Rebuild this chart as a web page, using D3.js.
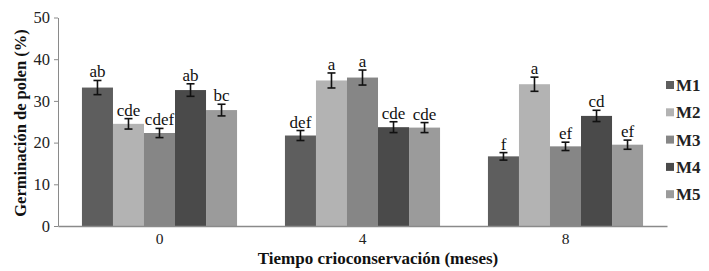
<!DOCTYPE html>
<html><head><meta charset="utf-8">
<script src="https://cdn.jsdelivr.net/npm/d3@7"></script>
<style>
body{margin:0;background:#fff;}
svg{display:block;font-family:"Liberation Serif","Times New Roman",serif;}
</style></head>
<body>
<svg id="chart" width="709" height="271"></svg>
<script>
const categories = ["0", "4", "8"];
const seriesNames = ["M1", "M2", "M3", "M4", "M5"];
const M1 = [33.2, 21.7, 16.7];
const M2 = [24.5, 34.9, 34.0];
const M3 = [22.3, 35.6, 19.1];
const M4 = [32.6, 23.7, 26.4];
const M5 = [27.8, 23.6, 19.5];
const E1 = [1.7, 1.2, 0.9];
const E2 = [1.25, 1.8, 1.7];
const E3 = [1.1, 1.8, 1.0];
const E4 = [1.5, 1.3, 1.35];
const E5 = [1.4, 1.2, 1.1];
const L1 = ["ab", "def", "f"];
const L2 = ["cde", "a", "a"];
const L3 = ["cdef", "a", "ef"];
const L4 = ["ab", "cde", "cd"];
const L5 = ["bc", "cde", "ef"];
const yTicks = [0, 10, 20, 30, 40, 50];
const colors = ["#5e5e5e", "#b3b3b3", "#868686", "#4a4a4a", "#9b9b9b"];

const values = [M1, M2, M3, M4, M5];
const errs = [E1, E2, E3, E4, E5];
const letters = [L1, L2, L3, L4, L5];
const rows = [];
categories.forEach((c, ci) => seriesNames.forEach((s, si) => rows.push({
  cat: c, s, si, v: values[si][ci], e: errs[si][ci], l: letters[si][ci]
})));

const svg = d3.select("#chart");
const x0 = d3.scaleBand().domain(categories).range([58, 667]).paddingInner(0.236).paddingOuter(0.118);
const x1 = d3.scaleBand().domain(seriesNames).range([0, x0.bandwidth()]);
const y = d3.scaleLinear().domain([0, 50]).range([226, 17.5]);
const color = d3.scaleOrdinal().domain(seriesNames).range(colors);

// bars
svg.append("g").selectAll("rect").data(rows).join("rect")
  .attr("x", d => x0(d.cat) + x1(d.s))
  .attr("y", d => y(d.v))
  .attr("width", x1.bandwidth())
  .attr("height", d => y(0) - y(d.v))
  .attr("fill", d => color(d.s));

// error bars
const eg = svg.append("g").attr("stroke", "#111").attr("stroke-width", 1.6);
rows.forEach(d => {
  const cx = x0(d.cat) + x1(d.s) + x1.bandwidth() / 2;
  eg.append("line").attr("x1", cx).attr("x2", cx).attr("y1", y(d.v + d.e)).attr("y2", y(d.v - d.e));
  eg.append("line").attr("x1", cx - 4).attr("x2", cx + 4).attr("y1", y(d.v + d.e)).attr("y2", y(d.v + d.e));
  eg.append("line").attr("x1", cx - 4).attr("x2", cx + 4).attr("y1", y(d.v - d.e)).attr("y2", y(d.v - d.e));
});

// letters
svg.append("g").selectAll("text").data(rows).join("text")
  .attr("x", d => x0(d.cat) + x1(d.s) + x1.bandwidth() / 2)
  .attr("y", d => y(d.v + d.e) - 3)
  .attr("text-anchor", "middle")
  .attr("font-size", 17)
  .attr("fill", "#111")
  .text(d => d.l);

// y axis
const yAxis = svg.append("g").attr("transform", "translate(58,0)")
  .call(d3.axisLeft(y).tickValues(yTicks).tickSize(4).tickSizeOuter(0));
yAxis.select(".domain").attr("stroke", "#8a8a8a");
yAxis.selectAll(".tick line").attr("stroke", "#8a8a8a");
yAxis.selectAll("text").attr("font-size", 16.5).attr("fill", "#222")
  .attr("font-family", "Liberation Serif, serif").attr("x", -8);

// x axis
const xAxis = svg.append("g").attr("transform", "translate(0,226)")
  .call(d3.axisBottom(x0).tickSize(0).tickSizeOuter(0));
xAxis.select(".domain").attr("stroke", "#8a8a8a").attr("stroke-width", 1.3);
xAxis.selectAll("text").attr("font-size", 15.5).attr("fill", "#222")
  .attr("font-family", "Liberation Serif, serif").attr("dy", "0.95em");

// axis titles
svg.append("text").attr("x", 378).attr("y", 264).attr("text-anchor", "middle")
  .attr("font-size", 17).attr("font-weight", "bold").attr("fill", "#111")
  .text("Tiempo crioconservación (meses)");
svg.append("text").attr("transform", "translate(26,123) rotate(-90)")
  .attr("text-anchor", "middle").attr("font-size", 16.5).attr("font-weight", "bold").attr("fill", "#111")
  .text("Germinación de polen (%)");

// legend
const lg = svg.append("g").selectAll("g").data(seriesNames).join("g")
  .attr("transform", (d, i) => `translate(666,${85 + i * 27.3})`);
lg.append("rect").attr("x", 0).attr("y", -4).attr("width", 8).attr("height", 8).attr("fill", d => color(d));
lg.append("text").attr("x", 10).attr("y", 6).attr("font-size", 17).attr("font-weight", "bold")
  .attr("fill", "#222").text(d => d);
</script>
</body></html>
